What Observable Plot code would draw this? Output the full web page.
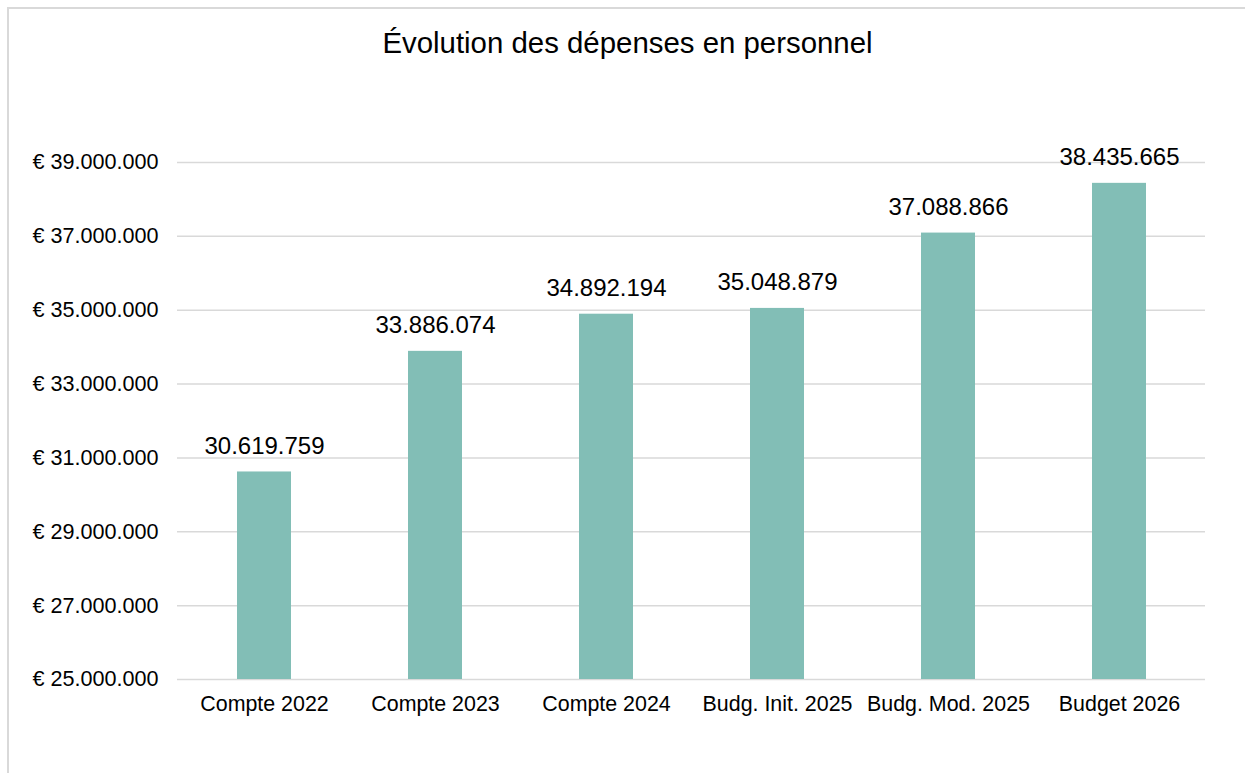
<!DOCTYPE html>
<html>
<head>
<meta charset="utf-8">
<script src="https://cdn.jsdelivr.net/npm/d3@7"></script>
<script src="https://cdn.jsdelivr.net/npm/@observablehq/plot@0.6"></script>
<style>
  html, body { margin: 0; padding: 0; background: #fff; overflow: hidden; }
  body { width: 1245px; height: 773px; position: relative; font-family: "Liberation Sans", Arial, sans-serif; }
  #frame { position: absolute; left: 7px; top: 7px; width: 1300px; height: 850px;
           border-top: 2px solid #d9d9d9; border-left: 2px solid #d9d9d9; box-sizing: border-box; }
  #title { position: absolute; left: 0; top: 28px; width: 1255px; text-align: center;
           font-size: 29.4px; line-height: 29px; color: #000; }
  #chart { position: absolute; left: 0; top: 100px; }
</style>
</head>
<body>
<div id="frame"></div>
<div id="title">Évolution des dépenses en personnel</div>
<div id="chart"></div>
<script>
const categories = ["Compte 2022", "Compte 2023", "Compte 2024", "Budg. Init. 2025", "Budg. Mod. 2025", "Budget 2026"];
const values = [30619759, 33886074, 34892194, 35048879, 37088866, 38435665];
const yTicks = [25000000, 27000000, 29000000, 31000000, 33000000, 35000000, 37000000, 39000000];

const data = categories.map((c, i) => ({category: c, value: values[i]}));
const loc = d3.formatLocale({decimal: ",", thousands: ".", grouping: [3], currency: ["€ ", ""]});
const num = loc.format(",");
const base = yTicks[0];

const chart = Plot.plot({
  width: 1245,
  height: 673,
  marginLeft: 177,
  marginRight: 40,
  marginTop: 62,
  marginBottom: 94,
  style: {fontFamily: '"Liberation Sans", Arial, sans-serif', color: "#000", background: "transparent"},
  x: {domain: categories, paddingInner: 0.685, paddingOuter: 0.335, label: null},
  y: {domain: [yTicks[0], yTicks[yTicks.length - 1]], label: null},
  marks: [
    Plot.gridY(yTicks, {stroke: "#d9d9d9", strokeOpacity: 1, strokeWidth: 1.5}),
    Plot.barY(data, {x: "category", y1: () => base, y2: "value", fill: "#82BEB6"}),
    Plot.text(data, {x: "category", y: "value", text: d => num(d.value), lineAnchor: "bottom", dy: -18, fontSize: 24, fill: "#000"}),
    Plot.axisY(yTicks, {tickSize: 0, tickPadding: 19, tickFormat: d => "€ " + num(d), fontSize: 21.6, fill: "#000", label: null}),
    Plot.axisX({tickSize: 0, tickPadding: 16, fontSize: 21.4, fill: "#000", label: null})
  ]
});
document.getElementById("chart").appendChild(chart);
</script>
</body>
</html>
